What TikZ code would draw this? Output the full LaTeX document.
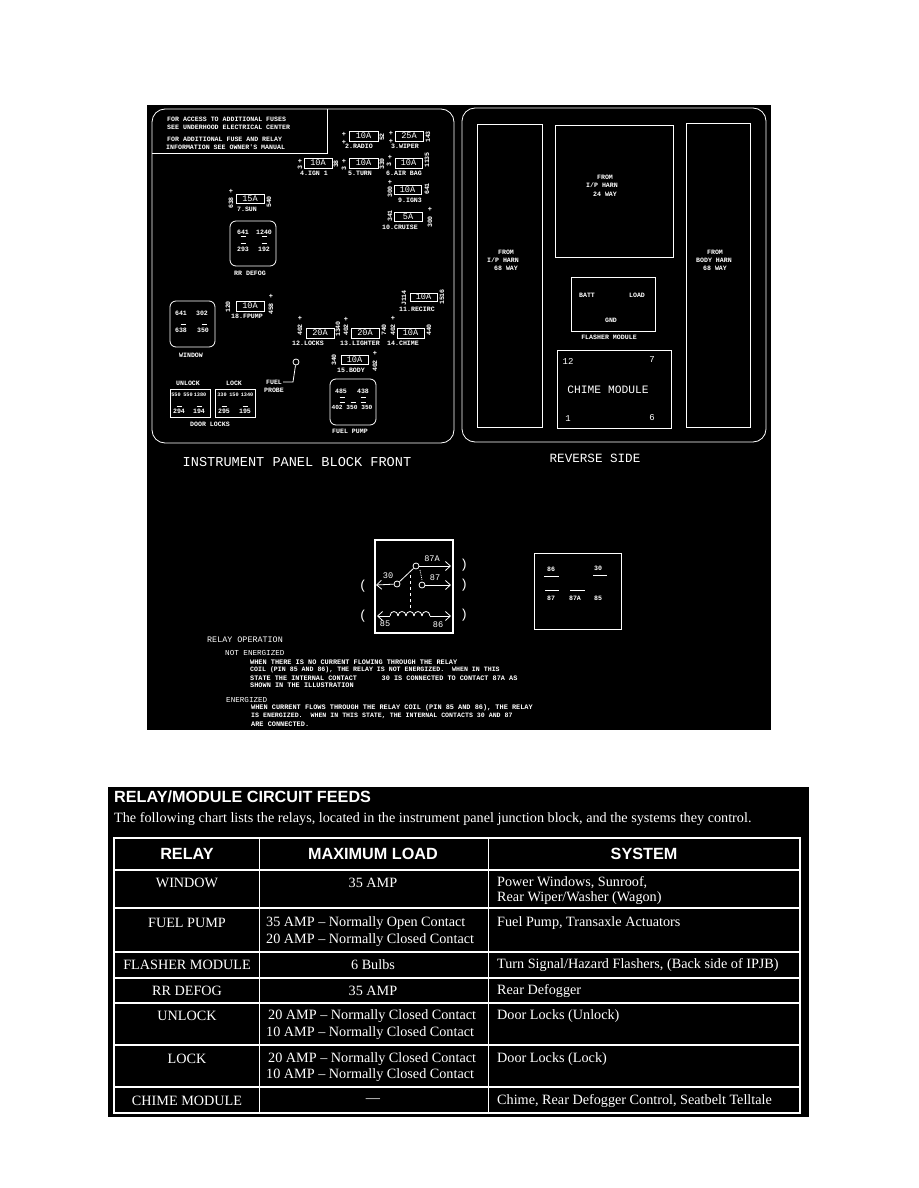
\documentclass[tikz,border=0pt]{standalone}
\usepackage{fontspec}
\setmainfont{Liberation Serif}
\newfontfamily\cadfont{Liberation Mono}
\newfontfamily\headfont{Liberation Sans}
\usetikzlibrary{arrows.meta}
\newcounter{tn}
\newcommand{\tx}[3][]{\stepcounter{tn}\node[cad,#1] (t\arabic{tn}) at (#2) {#3};}
\newcommand{\rt}[3][]{\stepcounter{tn}\node[cad,rotate=90,#1] (t\arabic{tn}) at (#2) {#3};}
\newcommand{\pl}[1]{\stepcounter{tn}\node[cad,font=\cadfont\bfseries\fontsize{7}{7}\selectfont] (t\arabic{tn}) at (#1) {+};}
% fuse: x1,y1 corner ; x2,y2 corner ; amp
\newcommand{\fuse}[3]{\stepcounter{tn}\draw[wl] (#1) rectangle (#2) node[midway,cad,font=\cadfont\fontsize{8.6}{9}\selectfont] (t\arabic{tn}) {#3};}
\newcommand{\cell}[3]{\stepcounter{tn}\node[cellt,#3] (t\arabic{tn}) at (#1) {#2};}
\tikzset{
  wl/.style={draw=white,line width=0.8pt},
  thk/.style={draw=white,line width=1.3pt},
  cad/.style={text=white,inner sep=0pt,font=\cadfont\bfseries\fontsize{6.6}{7}\selectfont},
  big/.style={font=\cadfont\fontsize{13.6}{14}\selectfont},
  mid/.style={font=\cadfont\fontsize{9}{10}\selectfont},
  lft/.style={anchor=west},
  cellt/.style={text=white,inner sep=0pt,font=\fontsize{14.2}{15}\selectfont},
  headt/.style={text=white,inner sep=0pt,font=\headfont\bfseries\fontsize{16.2}{17}\selectfont},
  pin/.style={circle,draw=white,line width=0.8pt,minimum size=6pt,inner sep=0pt},
  barb/.style={-{Straight Barb[length=5pt,width=9pt]}},
}
\begin{document}
\begin{tikzpicture}[x=1pt,y=-1pt]
\useasboundingbox (0,0) rectangle (918,1188);
\fill[white] (0,0) rectangle (918,1188);
\fill[black] (147,105) rectangle (771,730);
\fill[black] (108,787) rectangle (809,1117);

% ---- front panel
\draw[wl,rounded corners=13pt] (152,109) rectangle (454,443);
\draw[wl] (327,109) -- (327,153) -- (152,153);
\tx[lft]{167,119}{FOR ACCESS TO ADDITIONAL FUSES}
\tx[lft]{167,127}{SEE UNDERHOOD ELECTRICAL CENTER}
\tx[lft]{167,139}{FOR ADDITIONAL FUSE AND RELAY}
\tx[lft]{166,147}{INFORMATION SEE OWNER'S MANUAL}

\fuse{349,131}{378,141}{10A} \pl{344,134} \pl{344,142} \rt{382,137}{52} \tx{359,146}{2.RADIO}
\fuse{395,131}{423,141}{25A} \pl{391,133} \pl{391,141} \rt{428,137}{143} \tx{405,146}{3.WIPER}
\fuse{304,158}{332,168}{10A} \pl{300,161} \rt{300,168}{3} \rt{336,164}{38} \tx{314,173}{4.IGN 1}
\fuse{349,158}{378,168}{10A} \pl{344,161} \rt{344,169}{3} \rt{382,164}{339} \tx{360,173}{5.TURN}
\fuse{395,158}{422,168}{10A} \pl{390,157} \rt{389,165}{3} \rt{427,160}{1135} \tx{404,173}{6.AIR BAG}
\fuse{394,185}{421,194}{10A} \pl{390,182} \rt{390,192}{300} \rt{427,189}{641} \tx{410,200}{9.IGN3}
\fuse{394,212}{422,221}{5A} \rt{390,216}{341} \pl{430,209} \rt{430,222}{300} \tx{400,227}{10.CRUISE}
\fuse{236,194}{264,203}{15A} \pl{231,191} \rt{231,203}{638} \rt{269,202}{540} \tx{247,209}{7.SUN}
\fuse{410,293}{437,301}{10A} \rt{404,298}{J114} \rt{442,297}{1516} \tx{417,309}{11.RECIRC}
\fuse{236,301}{264,311}{10A} \rt{228,307}{120} \pl{271,296} \rt{271,309}{458} \tx{247,316}{18.FPUMP}
\fuse{306,328}{334,338}{20A} \rt{300,330}{402} \pl{300,318} \rt{338,329}{1340} \tx{308,343}{12.LOCKS}
\fuse{351,328}{379,338}{20A} \rt{346,330}{402} \pl{346,319} \rt{384,330}{740} \tx{360,343}{13.LIGHTER}
\fuse{397,328}{424,338}{10A} \rt{393,330}{402} \pl{393,318} \rt{429,330}{440} \tx{403,343}{14.CHIME}
\fuse{341,355}{368,364}{10A} \rt{334,360}{340} \pl{375,353} \rt{375,366}{402} \tx{351,370}{15.BODY}

% RR defog relay
\draw[wl,rounded corners=6pt] (230,221) rectangle (276,266);
\tx{243,232}{641} \tx{264,232}{1240} \tx{243,249}{293} \tx{264,249}{192}
\foreach \x in {243,264} \foreach \y in {236,243} \draw[wl] (\x-2.5,\y) -- (\x+2.5,\y);
\tx{250,273}{RR DEFOG}
% window relay
\draw[wl,rounded corners=6pt] (170,301) rectangle (215,347);
\tx{181,313}{641} \tx{202,313}{302} \tx{181,330}{638} \tx{203,330}{350}
\foreach \x in {183,204} \draw[wl] (\x-2.5,324) -- (\x+2.5,324);
\tx{191,355}{WINDOW}
% door locks
\tx{188,383}{UNLOCK} \tx{234,383}{LOCK}
\draw[wl] (170,389) rectangle (210,417);
\draw[wl] (215,389) rectangle (255,417);
\tx[font=\cadfont\bfseries\fontsize{5.2}{6}\selectfont]{176,395}{550}
\tx[font=\cadfont\bfseries\fontsize{5.2}{6}\selectfont]{188,395}{550}
\tx[font=\cadfont\bfseries\fontsize{5.2}{6}\selectfont]{200,395}{1380}
\tx[font=\cadfont\bfseries\fontsize{5.2}{6}\selectfont]{222,395}{330}
\tx[font=\cadfont\bfseries\fontsize{5.2}{6}\selectfont]{234,395}{150}
\tx[font=\cadfont\bfseries\fontsize{5.2}{6}\selectfont]{247,395}{1340}
\tx{179,411}{294} \tx{199,411}{194} \tx{224,411}{295} \tx{245,411}{195}
\foreach \x in {179,199,224,245} \draw[wl] (\x-2.5,406) -- (\x+2.5,406);
\tx{210,424}{DOOR LOCKS}
% fuel probe
\node[pin] (probe) at (296,362) {};
\coordinate (pb) at (293,382);
\coordinate (pc) at (283,382);
\draw[wl] (probe) -- (pb) -- (pc);
\tx{274,382}{FUEL} \tx{274,390}{PROBE}
% fuel pump relay
\draw[wl,rounded corners=6pt] (330,379) rectangle (376,425);
\tx{341,391}{485} \tx{363,391}{438} \tx[font=\cadfont\bfseries\fontsize{6.2}{7}\selectfont]{352,407}{402 350 350}
\foreach \x in {342,363} \draw[wl] (\x-2.5,397) -- (\x+2.5,397);
\foreach \x in {342,353,363} \draw[wl] (\x-2.5,402) -- (\x+2.5,402);
\tx{350,431}{FUEL PUMP}
\tx[big]{297,462}{INSTRUMENT PANEL BLOCK FRONT}

% ---- reverse side
\draw[wl,rounded corners=13pt] (462,108) rectangle (766,442);
\draw[wl] (477,124) rectangle (542,427);
\draw[wl] (555,125) rectangle (673,257);
\draw[wl] (686,123) rectangle (750,427);
\draw[wl] (571,277) rectangle (655,331);
\draw[wl] (557,350) rectangle (671,428);
\tx{506,252}{FROM} \tx{503,260}{I/P HARN} \tx{506,268}{68 WAY}
\tx{605,177}{FROM} \tx{602,185}{I/P HARN} \tx{605,194}{24 WAY}
\tx{715,252}{FROM} \tx{714,260}{BODY HARN} \tx{715,268}{68 WAY}
\tx{587,295}{BATT} \tx{637,295}{LOAD} \tx{611,320}{GND} \tx{609,337}{FLASHER MODULE}
\tx[mid]{568,361}{12} \tx[mid]{652,360}{7} \tx[font=\cadfont\fontsize{11.3}{12}\selectfont]{608,390}{CHIME MODULE}
\tx[mid]{568,419}{1} \tx[mid]{652,418}{6}
\tx[font=\cadfont\fontsize{12.6}{13}\selectfont]{595,458}{REVERSE SIDE}

% ---- relay schematic
\draw[thk] (375,540) rectangle (453,633);
\node[pin] (c87a) at (416,566) {};
\node[pin] (c87) at (422,585) {};
\node[pin] (c30) at (397,584) {};
\coordinate (e87a) at (451,566);
\coordinate (e87) at (451,585);
\coordinate (e30) at (376,585);
\coordinate (dt) at (410,575);
\coordinate (db) at (410,610);
\coordinate (ct) at (420,570);
\coordinate (cb) at (422,580);
\coordinate (cl) at (377,616);
\coordinate (cr) at (451,616);
\draw[wl,barb] (c87a) -- (e87a);
\draw[wl,barb] (c87) -- (e87);
\draw[wl,barb] (c30) -- (e30);
\draw[wl] (c30) -- (c87a);
\draw[wl,dashed] (dt) -- (db);
\draw[wl,densely dotted] (ct) -- (cb);
\draw[wl,{Straight Barb[length=5pt,width=9pt]}-] (cl) -- (390,616);
\foreach \x in {390,398,406,414,422}
  \draw[wl] (\x,616) .. controls (\x,610) and (\x+8,610) .. (\x+8,616);
\draw[wl,barb] (430,616) -- (cr);
\tx[font=\cadfont\fontsize{8.6}{9}\selectfont]{432,559}{87A}
\tx[font=\cadfont\fontsize{8.6}{9}\selectfont]{388,576}{30}
\tx[font=\cadfont\fontsize{8.6}{9}\selectfont]{435,578}{87}
\tx[font=\cadfont\fontsize{8.6}{9}\selectfont]{385,624}{85}
\tx[font=\cadfont\fontsize{8.6}{9}\selectfont]{438,625}{86}
\tx[font=\cadfont\fontsize{13}{14}\selectfont]{363,586}{(}
\tx[font=\cadfont\fontsize{13}{14}\selectfont]{363,616}{(}
\tx[font=\cadfont\fontsize{13}{14}\selectfont]{464,565}{)}
\tx[font=\cadfont\fontsize{13}{14}\selectfont]{464,585}{)}
\tx[font=\cadfont\fontsize{13}{14}\selectfont]{464,615}{)}
% relay pinout
\draw[wl] (534,553) rectangle (621,629);
\tx{551,569}{86} \tx{598,568}{30} \tx{551,598}{87} \tx{575,598}{87A} \tx{598,598}{85}
\draw[wl] (544,576) -- (559,576);
\draw[wl] (593,575) -- (607,575);
\draw[wl] (545,590) -- (559,590);
\draw[wl] (570,590) -- (585,590);
% relay operation text
\tx[lft,font=\cadfont\fontsize{8.4}{9}\selectfont]{207,640}{RELAY OPERATION}
\tx[lft,font=\cadfont\fontsize{7.6}{8}\selectfont]{225,653}{NOT ENERGIZED}
\tx[lft,font=\cadfont\bfseries\fontsize{6.9}{7}\selectfont]{250,662}{WHEN THERE IS NO CURRENT FLOWING THROUGH THE RELAY}
\tx[lft,font=\cadfont\bfseries\fontsize{6.6}{7}\selectfont]{250,670}{COIL (PIN 85 AND 86), THE RELAY IS NOT ENERGIZED.\ \ WHEN IN THIS}
\tx[lft,font=\cadfont\bfseries\fontsize{6.85}{7}\selectfont]{250,678}{STATE THE INTERNAL CONTACT\ \ \ \ \ \ 30 IS CONNECTED TO CONTACT 87A AS}
\tx[lft,font=\cadfont\bfseries\fontsize{6.9}{7}\selectfont]{250,685}{SHOWN IN THE ILLUSTRATION}
\tx[lft,font=\cadfont\fontsize{7.6}{8}\selectfont]{226,700}{ENERGIZED}
\tx[lft,font=\cadfont\bfseries\fontsize{6.9}{7}\selectfont]{251,708}{WHEN CURRENT FLOWS THROUGH THE RELAY COIL (PIN 85 AND 86), THE RELAY}
\tx[lft,font=\cadfont\bfseries\fontsize{6.6}{7}\selectfont]{251,716}{IS ENERGIZED.\ \ WHEN IN THIS STATE, THE INTERNAL CONTACTS 30 AND 87}
\tx[lft,font=\cadfont\bfseries\fontsize{6.9}{7}\selectfont]{251,724}{ARE CONNECTED.}

% ---- table
\node[headt,anchor=west] (title) at (114,797) {RELAY/MODULE CIRCUIT FEEDS};
\node[cellt,anchor=west] (intro) at (114,819) {The following chart lists the relays, located in the instrument panel junction block, and the systems they control.};
\draw[draw=white,line width=1.6pt] (114,838) rectangle (800,1113);
\foreach \y in {870,908,952,978,1003,1045,1087}
  \draw[draw=white,line width=1.2pt] (114,\y) -- (800,\y);
\foreach \x in {259,488}
  \draw[draw=white,line width=1pt] (\x,838) -- (\x,1113);
\node[headt] (h1) at (187,854) {RELAY};
\node[headt] (h2) at (373,854) {MAXIMUM LOAD};
\node[headt] (h3) at (644,854) {SYSTEM};
\cell{187,883}{WINDOW}{}
\cell{373,883}{35 AMP}{}
\cell{497,883}{Power Windows, Sunroof,}{anchor=west}
\cell{497,898}{Rear Wiper/Washer (Wagon)}{anchor=west}
\cell{187,923}{FUEL PUMP}{}
\cell{266,923}{35 AMP -- Normally Open Contact}{anchor=west}
\cell{266,940}{20 AMP -- Normally Closed Contact}{anchor=west}
\cell{497,923}{Fuel Pump, Transaxle Actuators}{anchor=west}
\cell{187,965}{FLASHER MODULE}{}
\cell{373,965}{6 Bulbs}{}
\cell{497,965}{Turn Signal/Hazard Flashers, (Back side of IPJB)}{anchor=west}
\cell{187,991}{RR DEFOG}{}
\cell{373,991}{35 AMP}{}
\cell{497,991}{Rear Defogger}{anchor=west}
\cell{187,1016}{UNLOCK}{}
\cell{268,1016}{20 AMP -- Normally Closed Contact}{anchor=west}
\cell{266,1033}{10 AMP -- Normally Closed Contact}{anchor=west}
\cell{497,1016}{Door Locks (Unlock)}{anchor=west}
\cell{187,1059}{LOCK}{}
\cell{268,1059}{20 AMP -- Normally Closed Contact}{anchor=west}
\cell{266,1075}{10 AMP -- Normally Closed Contact}{anchor=west}
\cell{497,1059}{Door Locks (Lock)}{anchor=west}
\cell{187,1101}{CHIME MODULE}{}
\cell{373,1101}{---}{}
\cell{497,1101}{Chime, Rear Defogger Control, Seatbelt Telltale}{anchor=west}
\end{tikzpicture}
\end{document}
